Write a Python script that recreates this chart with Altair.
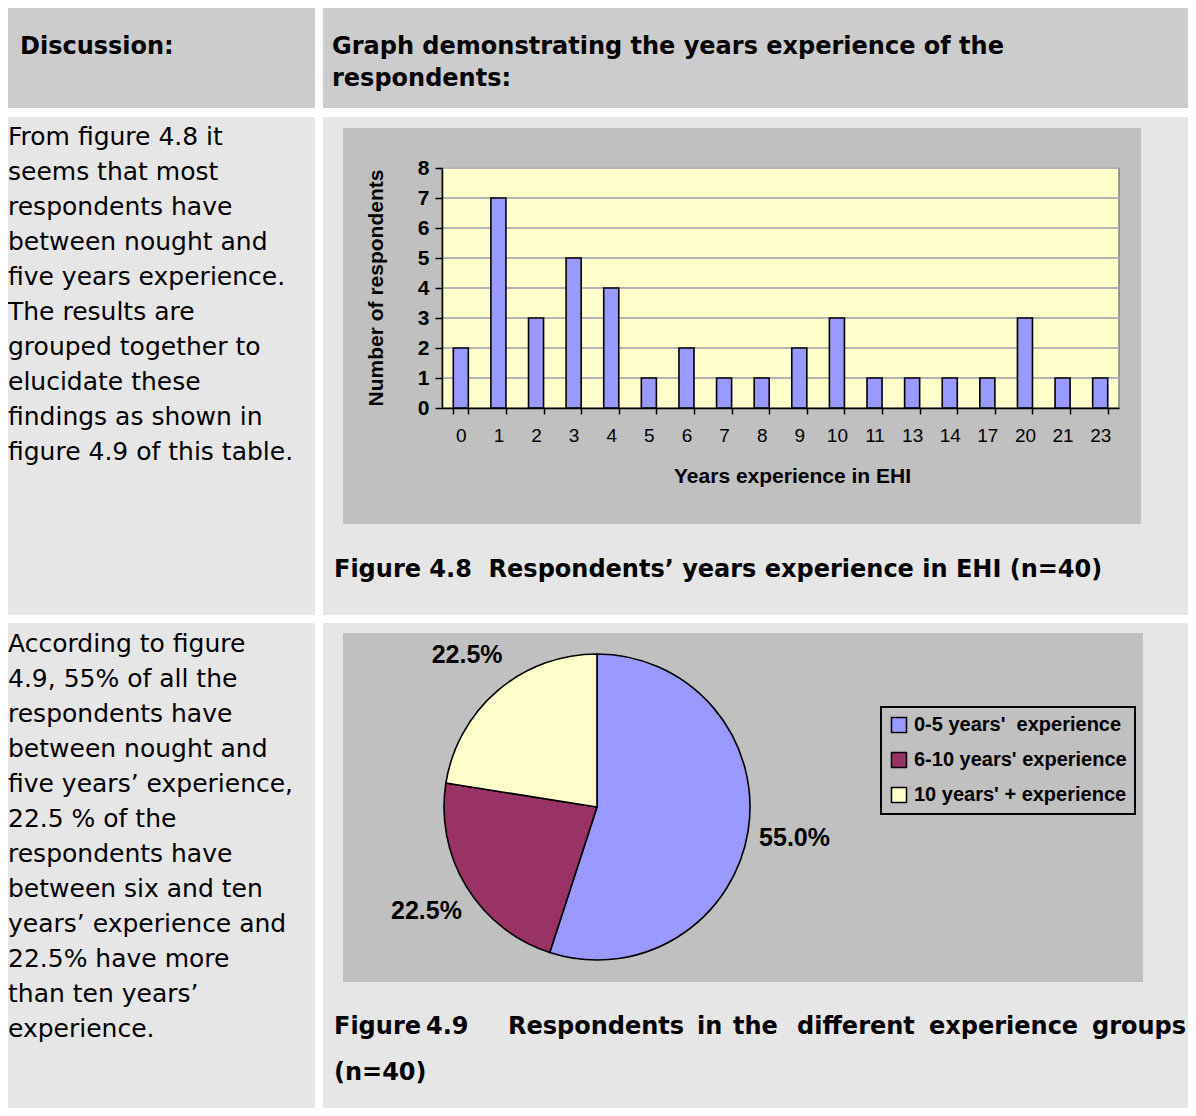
import altair as alt
import pandas as pd

# ---------------- data ----------------
years = ["0", "1", "2", "3", "4", "5", "6", "7", "8", "9", "10", "11", "13", "14", "17", "20", "21", "23"]
respondents = [2, 7, 3, 5, 4, 1, 2, 1, 1, 2, 3, 1, 1, 1, 1, 3, 1, 1]

groups = ["0-5 years' \u00a0experience", "6-10 years' experience", "10 years' + experience"]
group_counts = [22, 9, 9]
group_colors = ["#9999FF", "#993366", "#FFFFCC"]

y_ticks = [0, 1, 2, 3, 4, 5, 6, 7, 8]

# ---------------- layout helpers ----------------
W, H = 1180, 1100
OFF = 8


def P(v):
    return v - OFF


one = pd.DataFrame({"k": [0]})
BODY = "DejaVu Sans"
ARIAL = "Liberation Sans"


def box(x1, y1, x2, y2, fill, stroke=None, sw=0):
    kw = dict(fill=fill, strokeWidth=sw)
    if stroke:
        kw["stroke"] = stroke
    return alt.Chart(one).mark_rect(**kw).encode(
        x=alt.value(P(x1)), x2=alt.value(P(x2)),
        y=alt.value(P(y1)), y2=alt.value(P(y2)))


def txt(x, y, lines, size, bold=False, font=BODY, lh=35):
    return alt.Chart(one).mark_text(
        align="left", baseline="alphabetic", font=font, fontSize=size,
        fontWeight="bold" if bold else "normal", color="black", lineHeight=lh
    ).encode(x=alt.value(P(x)), y=alt.value(P(y)), text=alt.value(lines))


HEAD = "#CCCCCC"
CELL = "#E6E6E6"
CHART = "#C0C0C0"

layers = [
    box(0, 4, 315, 108, HEAD), box(323, 4, 1196, 108, HEAD),
    box(0, 117, 315, 615, CELL), box(323, 117, 1196, 615, CELL),
    box(0, 623, 315, 1116, CELL), box(323, 623, 1196, 1116, CELL),
    box(343, 128, 1141, 524, CHART),
    box(343, 633, 1143, 982, CHART),
    box(442, 168, 1119, 408, "#FFFFCC", stroke="#808080", sw=1.5),
]

# ---------------- texts ----------------
layers += [
    txt(20, 54, "Discussion:", 24, bold=True),
    txt(332, 54, ["Graph demonstrating the years experience of the", "respondents:"], 24, bold=True, lh=32),
    txt(8, 145, ["From figure 4.8 it", "seems that most", "respondents have", "between nought and",
                 "five years experience.", "The results are", "grouped together to", "elucidate these",
                 "findings as shown in", "figure 4.9 of this table."], 25),
    txt(8, 652, ["According to figure", "4.9, 55% of all the", "respondents have", "between nought and",
                 "five years\u2019 experience,", "22.5 % of the", "respondents have", "between six and ten",
                 "years\u2019 experience and", "22.5% have more", "than ten years\u2019", "experience."], 25),
    txt(334, 577, "Figure 4.8 \u00a0Respondents\u2019 years experience in EHI (n=40)", 24, bold=True),
    txt(334, 1080, "(n=40)", 24, bold=True),
]
cap_words = ["Figure", "4.9", "Respondents", "in", "the", "different", "experience", "groups"]
cap_x = [334, 426, 508, 697, 733, 797, 929, 1092]
for w_, xx in zip(cap_words, cap_x):
    layers.append(txt(xx, 1034, w_, 24, bold=True))

# ---------------- bar chart ----------------
bars_df = pd.DataFrame({"years": years, "count": respondents})
grid_df = pd.DataFrame({"count": y_ticks[1:]})

x_scale = alt.Scale(domain=years, range=[P(442), P(1119)], paddingInner=0.6, paddingOuter=0.3)
y_scale = alt.Scale(domain=[0, 8], range=[P(408), P(168)], nice=False)

x_axis = alt.Axis(
    orient="bottom", offset=-(H - P(408)), tickBand="extent", labelAngle=0, labelOverlap=False,
    labelFont=ARIAL, labelFontSize=19, labelColor="black", labelPadding=12,
    tickSize=6, tickColor="black", tickWidth=1.5, domainColor="black", domainWidth=1.5,
    title="Years experience in EHI", titleFont=ARIAL, titleFontSize=21, titleFontWeight="bold",
    titleColor="black", titleX=P(792), titleY=68, titleAlign="center", titleBaseline="middle",
    grid=False, zindex=1)
y_axis = alt.Axis(
    orient="left", offset=-P(442), values=y_ticks,
    labelFont=ARIAL, labelFontSize=21, labelFontWeight="bold", labelColor="black", labelPadding=6,
    tickSize=7, tickColor="black", tickWidth=1.5, domainColor="black", domainWidth=1.5,
    title="Number of respondents", titleFont=ARIAL, titleFontSize=21, titleFontWeight="bold",
    titleColor="black", titleAngle=270, titleX=376 - 442, titleY=P(287.5),
    titleAlign="center", titleBaseline="middle", grid=False, zindex=1)

grid = alt.Chart(grid_df).mark_rule(color="#B4B4B4", strokeWidth=2).encode(
    y=alt.Y("count:Q", scale=y_scale, axis=y_axis),
    x=alt.value(P(442)), x2=alt.value(P(1119)))

bars = alt.Chart(bars_df).mark_bar(fill="#9999FF", stroke="black", strokeWidth=1.6).encode(
    x=alt.X("years:N", scale=x_scale, axis=x_axis),
    y=alt.Y("count:Q", scale=y_scale, axis=y_axis))

layers += [grid, bars]

# ---------------- pie chart ----------------
pie_df = pd.DataFrame({"group": groups, "n": group_counts, "order": [0, 1, 2]})
CX, CY = P(597), P(807)

pie_base = alt.Chart(pie_df).encode(
    theta=alt.Theta("n:Q", stack=True),
    order=alt.Order("order:Q"),
    x=alt.value(CX), y=alt.value(CY))

arc = pie_base.mark_arc(outerRadius=153, stroke="black", strokeWidth=1.6).encode(
    color=alt.Color("group:N", title=None,
                    scale=alt.Scale(domain=groups, range=group_colors),
                    legend=alt.Legend(orient="none", legendX=P(881), legendY=P(707),
                                      direction="vertical", symbolType="square", symbolSize=225,
                                      symbolStrokeColor="black", symbolStrokeWidth=1.5, symbolOpacity=1,
                                      labelFont=ARIAL, labelFontSize=20, labelFontWeight="bold",
                                      labelColor="black", labelOffset=5, labelLimit=400,
                                      rowPadding=13, padding=8, strokeColor="black")))

pie_labels = pie_base.transform_joinaggregate(total="sum(n)").transform_calculate(
    pct="datum.n / datum.total"
).mark_text(radius=200, font=ARIAL, fontSize=25, fontWeight="bold", color="black").encode(
    detail="group:N",
    text=alt.Text("pct:Q", format=".1%"))

layers += [arc, pie_labels]

chart = alt.layer(*layers).properties(
    width=W, height=H, padding=0, background="white",
    autosize=alt.AutoSizeParams(type="none")
).configure_view(stroke="transparent").configure_legend(strokeWidth=2)

chart.save("out.html", embed_options={"renderer": "svg", "actions": False})
